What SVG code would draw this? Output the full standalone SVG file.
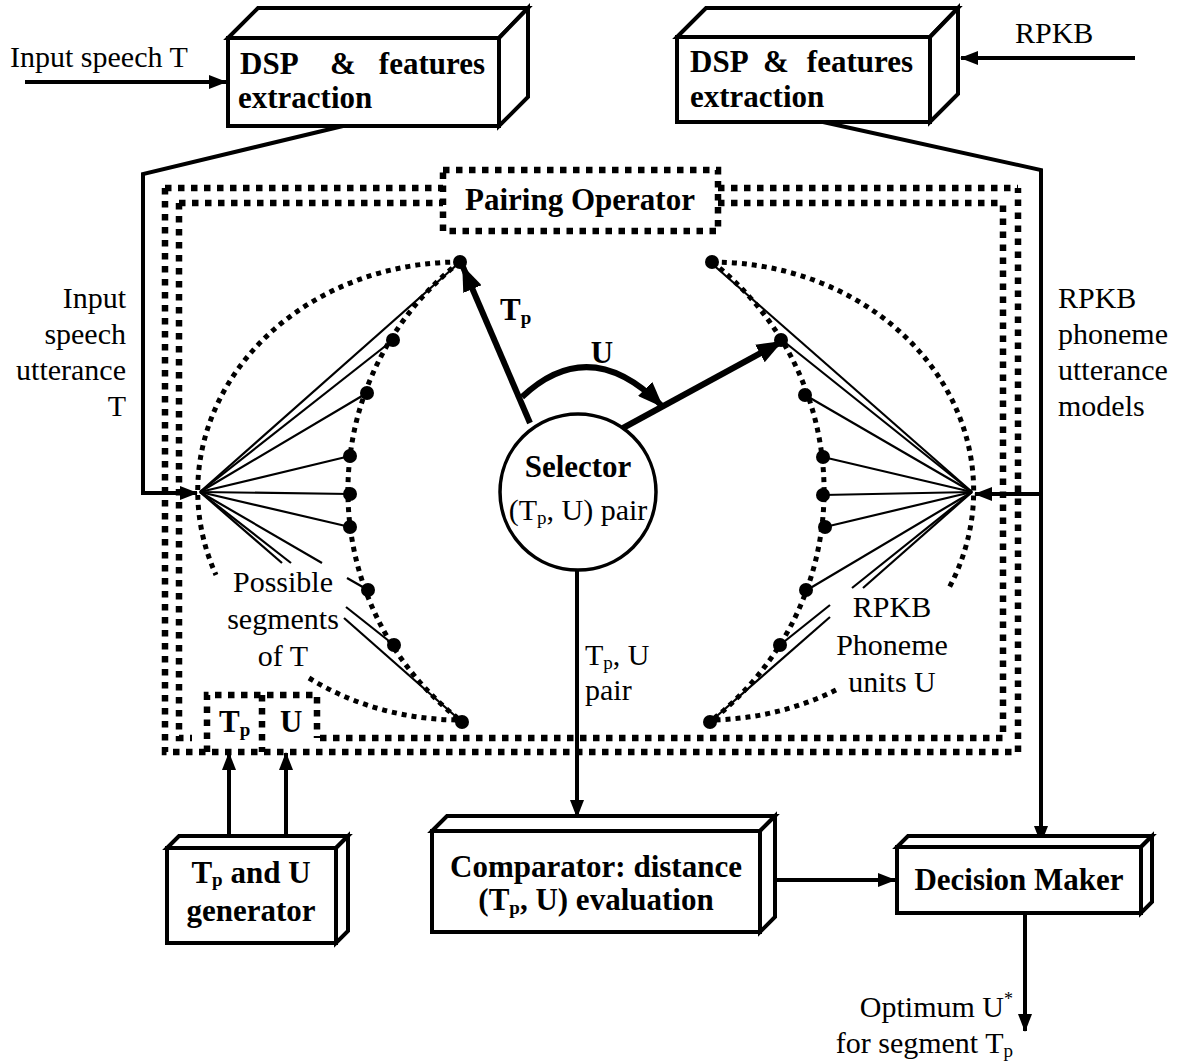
<svg xmlns="http://www.w3.org/2000/svg" width="1182" height="1062" viewBox="0 0 1182 1062">
<style>
text{font-family:"Liberation Serif","Times New Roman",serif;fill:#000}
.r{font-size:30px}
.b{font-size:31px;font-weight:bold}
.sub{font-size:19px}
.box{fill:#fff;stroke:#000;stroke-width:4;stroke-linejoin:miter}
.conn{fill:none;stroke:#000;stroke-width:4}
.thick{fill:none;stroke:#000;stroke-width:6}
.thin{fill:none;stroke:#000;stroke-width:2.2}
.frame{fill:none;stroke:#000;stroke-width:6.5;stroke-dasharray:6.5 6.5}
.arcd{fill:none;stroke:#000;stroke-width:5;stroke-dasharray:5 5}
.dot{fill:#000}
</style>
<defs>
<marker id="ah" markerUnits="userSpaceOnUse" markerWidth="18" markerHeight="14" refX="17" refY="7" orient="auto"><path d="M0,0 L18,7 L0,14 z" fill="#000"/></marker>
<marker id="ahL" markerUnits="userSpaceOnUse" markerWidth="26" markerHeight="20" refX="24" refY="10" orient="auto"><path d="M0,0 L26,10 L0,20 z" fill="#000"/></marker>
</defs>

<g id="connectors">
<line class="conn" x1="25" y1="82" x2="226" y2="82" marker-end="url(#ah)"/>
<line class="conn" x1="1135" y1="58" x2="961" y2="58" marker-end="url(#ah)"/>
<polyline class="conn" points="343,126 143,174 143,493 197,493" marker-end="url(#ah)"/>
<polyline class="conn" points="823,122 1041,170 1041,843" marker-end="url(#ah)"/>
<line class="conn" x1="1041" y1="494" x2="975" y2="494" marker-end="url(#ah)"/>
<line class="conn" x1="577" y1="570" x2="577" y2="817" marker-end="url(#ah)"/>
<line class="conn" x1="229" y1="836" x2="229" y2="753" marker-end="url(#ah)"/>
<line class="conn" x1="286" y1="836" x2="286" y2="753" marker-end="url(#ah)"/>
<line class="conn" x1="777" y1="880" x2="895" y2="880" marker-end="url(#ah)"/>
<line class="conn" x1="1025" y1="913" x2="1025" y2="1031" marker-end="url(#ah)"/>
<line class="thick" x1="530" y1="423" x2="463" y2="267" marker-end="url(#ahL)"/>
<line class="thick" x1="623" y1="428" x2="781" y2="342" marker-end="url(#ahL)"/>
<path class="thick" d="M522,397 Q590,333 662,406" marker-end="url(#ahL)"/>
</g>

<g id="pairing-operator">
<path class="frame" d="M165,188 V752 H1018 V188 M165,188 H443 M718,188 H1018"/>
<path class="frame" d="M179,203 V738 H192 M320,738 H1003 V203 M179,203 H443 M718,203 H1003"/>
<rect class="frame" x="443" y="170" width="275" height="61"/>
<text class="b" x="580" y="210" text-anchor="middle">Pairing Operator</text>
</g>

<g id="tp-u-slots">
<path class="frame" d="M207,752 V695 H317 V738 M262,695 V752"/>
<text class="b" x="219" y="732">T<tspan class="sub" dy="4">p</tspan></text>
<text class="b" x="280" y="732">U</text>
</g>

<g id="segments-T">
<path class="arcd" d="M460,262 A262,229 0 0 0 216,575"/>
<path class="arcd" d="M309,678 A262,229 0 0 0 460,720"/>
<path class="arcd" d="M460,262 A290,290 0 0 0 460,720"/>
<g class="thin">
<line x1="200" y1="492" x2="460" y2="262"/>
<line x1="200" y1="492" x2="393" y2="340"/>
<line x1="200" y1="492" x2="367" y2="393"/>
<line x1="200" y1="492" x2="350" y2="456"/>
<line x1="200" y1="492" x2="350" y2="494"/>
<line x1="200" y1="492" x2="350" y2="527"/>
<line x1="200" y1="492" x2="322" y2="563"/>
<line x1="347" y1="578" x2="368" y2="590"/>
<line x1="200" y1="492" x2="291" y2="563"/>
<line x1="346" y1="607" x2="394" y2="645"/>
<line x1="200" y1="492" x2="282" y2="563"/>
<line x1="344" y1="618" x2="462" y2="722"/>
</g>
<g class="dot">
<circle cx="460" cy="262" r="7"/><circle cx="393" cy="340" r="7"/><circle cx="367" cy="393" r="7"/>
<circle cx="350" cy="456" r="7"/><circle cx="350" cy="494" r="7"/><circle cx="350" cy="527" r="7"/>
<circle cx="368" cy="590" r="7"/><circle cx="394" cy="645" r="7"/><circle cx="462" cy="722" r="7"/>
</g>
<text class="r" text-anchor="middle"><tspan x="283" y="592">Possible</tspan><tspan x="283" y="629">segments</tspan><tspan x="283" y="666">of T</tspan></text>
</g>

<g id="phoneme-units-U">
<path class="arcd" d="M712,262 A262,229 0 0 1 949,588"/>
<path class="arcd" d="M836,690 A262,229 0 0 1 712,720"/>
<path class="arcd" d="M712,262 A290,290 0 0 1 712,720"/>
<g class="thin">
<line x1="972" y1="492" x2="710" y2="262"/>
<line x1="972" y1="492" x2="782" y2="340"/>
<line x1="972" y1="492" x2="805" y2="395"/>
<line x1="972" y1="492" x2="823" y2="457"/>
<line x1="972" y1="492" x2="823" y2="495"/>
<line x1="972" y1="492" x2="825" y2="527"/>
<line x1="972" y1="492" x2="807" y2="590"/>
<line x1="972" y1="492" x2="852" y2="588"/>
<line x1="830" y1="605" x2="780" y2="645"/>
<line x1="972" y1="492" x2="863" y2="588"/>
<line x1="830" y1="617" x2="710" y2="722"/>
</g>
<g class="dot">
<circle cx="712" cy="262" r="7"/><circle cx="781" cy="340" r="7"/><circle cx="805" cy="395" r="7"/>
<circle cx="823" cy="457" r="7"/><circle cx="823" cy="495" r="7"/><circle cx="825" cy="527" r="7"/>
<circle cx="806" cy="590" r="7"/><circle cx="780" cy="645" r="7"/><circle cx="710" cy="722" r="7"/>
</g>
<text class="r" text-anchor="middle"><tspan x="892" y="617">RPKB</tspan><tspan x="892" y="655">Phoneme</tspan><tspan x="892" y="692">units U</tspan></text>
</g>

<g id="selector">
<circle cx="578" cy="492" r="78" fill="#fff" stroke="#000" stroke-width="3.5"/>
<text class="b" x="578" y="477" text-anchor="middle">Selector</text>
<text class="r" x="578" y="520" text-anchor="middle">(T<tspan class="sub" dy="4">p</tspan><tspan dy="-4">, U) pair</tspan></text>
</g>

<g id="labels">
<text class="b" x="500" y="320">T<tspan class="sub" dy="4">p</tspan></text>
<text class="b" x="602" y="363" text-anchor="middle">U</text>
<text class="r" x="585" y="665">T<tspan class="sub" dy="4">p</tspan><tspan dy="-4">, U</tspan></text>
<text class="r" x="585" y="700">pair</text>
<text class="r" x="10" y="67">Input speech T</text>
<text class="r" x="1015" y="43">RPKB</text>
<text class="r" text-anchor="end"><tspan x="126" y="308">Input</tspan><tspan x="126" y="344">speech</tspan><tspan x="126" y="380">utterance</tspan><tspan x="126" y="416">T</tspan></text>
<text class="r"><tspan x="1058" y="308">RPKB</tspan><tspan x="1058" y="344">phoneme</tspan><tspan x="1058" y="380">utterance</tspan><tspan x="1058" y="416">models</tspan></text>
<text class="r" x="1013" y="1017" text-anchor="end">Optimum U<tspan font-size="18" dy="-12">*</tspan></text>
<text class="r" x="1013" y="1053" text-anchor="end">for segment T<tspan class="sub" dy="4">p</tspan></text>
</g>

<g id="dsp-left">
<polygon class="box" points="228,38 258,8 528,8 499,38"/>
<polygon class="box" points="499,38 528,8 528,97 499,126"/>
<rect class="box" x="228" y="38" width="271" height="88"/>
<text class="b" x="240" y="74">DSP</text>
<text class="b" x="330" y="74">&amp;</text>
<text class="b" x="485" y="74" text-anchor="end">features</text>
<text class="b" x="238" y="108">extraction</text>
</g>

<g id="dsp-right">
<polygon class="box" points="677,37 706,8 958,8 930,37"/>
<polygon class="box" points="930,37 958,8 958,94 930,122"/>
<rect class="box" x="677" y="37" width="253" height="85"/>
<text class="b" x="690" y="72">DSP</text>
<text class="b" x="763" y="72">&amp;</text>
<text class="b" x="913" y="72" text-anchor="end">features</text>
<text class="b" x="690" y="107">extraction</text>
</g>

<g id="generator">
<polygon class="box" points="167,848 179,836 348,836 336,848"/>
<polygon class="box" points="336,848 348,836 348,931 336,943"/>
<rect class="box" x="167" y="848" width="169" height="95"/>
<text class="b" x="251" y="883" text-anchor="middle">T<tspan class="sub" dy="3">p</tspan><tspan dy="-3"> and U</tspan></text>
<text class="b" x="251" y="921" text-anchor="middle">generator</text>
</g>

<g id="comparator">
<polygon class="box" points="432,831 447,816 775,816 760,831"/>
<polygon class="box" points="760,831 775,816 775,917 760,932"/>
<rect class="box" x="432" y="831" width="328" height="101"/>
<text class="b" x="596" y="877" text-anchor="middle">Comparator: distance</text>
<text class="b" x="596" y="910" text-anchor="middle">(T<tspan class="sub" dy="4">p</tspan><tspan dy="-4">, U) evaluation</tspan></text>
</g>

<g id="decision-maker">
<polygon class="box" points="897,847 908,836 1152,836 1141,847"/>
<polygon class="box" points="1141,847 1152,836 1152,902 1141,913"/>
<rect class="box" x="897" y="847" width="244" height="66"/>
<text class="b" x="1019" y="890" text-anchor="middle">Decision Maker</text>
</g>
</svg>
